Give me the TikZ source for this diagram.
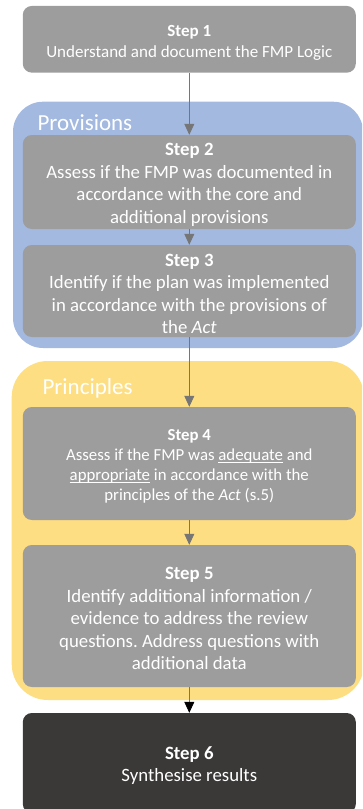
\documentclass[tikz,border=0pt]{standalone}
\usepackage{fontspec}
\setmainfont{Carlito}
\usetikzlibrary{arrows.meta}
\definecolor{boxgray}{RGB}{157,157,157}
\definecolor{arrowgray}{RGB}{118,118,118}
\definecolor{provblue}{RGB}{163,185,224}
\definecolor{princyellow}{RGB}{254,222,130}
\definecolor{finaldark}{RGB}{59,56,56}
\newcommand{\stepfont}[1]{\fontsize{#1}{22.5}\selectfont}
% step title, with a strut that pushes the text a little lower in its box
\newcommand{\stephead}[2][6pt]{\rule{0pt}{\dimexpr\fontcharht\font`S+#1\relax}\textbf{#2}}
% underline sitting close to the baseline
\newsavebox\ulbox
\newcommand{\uln}[1]{\sbox\ulbox{#1}\rlap{\rule[-2pt]{\wd\ulbox}{0.7pt}}\usebox\ulbox}
\frenchspacing

\begin{document}
\begin{tikzpicture}[x=1pt, y=-1pt,
    stepbox/.style={fill=boxgray, text=white, rounded corners=9pt, minimum width=333pt,
      align=center, inner sep=0pt},
    grouplabel/.style={text=white, anchor=west, font=\fontsize{23}{26}\selectfont},
    flowarrow/.style={draw=arrowgray, line width=.8pt, -{Triangle[width=10pt,length=11pt]}}]
        \clip (0,0) rectangle (362,809);
        % group backgrounds
        \fill[provblue, rounded corners=30pt] (13,101.7) rectangle (363,348);
        \fill[princyellow, rounded corners=36pt] (11.7,361) rectangle (364,700);
        \node[grouplabel] (provlabel) at (34,123) {Provisions};
        \node[grouplabel] (princlabel) at (39,388) {Principles};
        % steps
        \node[stepbox, minimum height=66.7pt, font=\fontsize{17}{21}\selectfont] (s1) at (189.3,39.3)
          {\stephead[8pt]{Step 1}\\Understand and document the FMP Logic};
        \node[stepbox, minimum height=94pt, font=\stepfont{18.8}] (s2) at (189.3,182)
          {\stephead{Step 2}\\Assess if the FMP was documented in\\accordance with the core and\\additional provisions};
        \node[stepbox, minimum height=92pt, font=\stepfont{18.8}] (s3) at (189.3,291)
          {\stephead{Step 3}\\Identify if the plan was implemented\\in accordance with the provisions of\\the \textit{Act}};
        \node[stepbox, minimum height=113pt, font=\fontsize{16.8}{20}\selectfont] (s4) at (189.3,463.5)
          {\stephead{Step 4}\\Assess if the FMP was \uln{adequate} and\\\uln{appropriate} in accordance with the\\principles of the \textit{Act} (s.5)};
        \node[stepbox, minimum height=142pt, font=\stepfont{18.8}] (s5) at (189.3,616)
          {\stephead{Step 5}\\Identify additional information /\\evidence to address the review\\questions. Address questions with\\additional data};
        \node[stepbox, fill=finaldark, minimum height=100pt, font=\stepfont{18.8}] (s6) at (189.3,763)
          {\stephead{Step 6}\\Synthesise results};
        % connectors
        \draw[flowarrow] (s1.south) -- (s2.north);
        \draw[flowarrow] (s2.south) -- (s3.north);
        \draw[flowarrow] (s3.south) -- (s4.north);
        \draw[flowarrow] (s4.south) -- (s5.north);
        \draw[flowarrow, -{Triangle[width=10pt,length=11pt,black]}] (s5.south) -- (s6.north);
\end{tikzpicture}
\end{document}
